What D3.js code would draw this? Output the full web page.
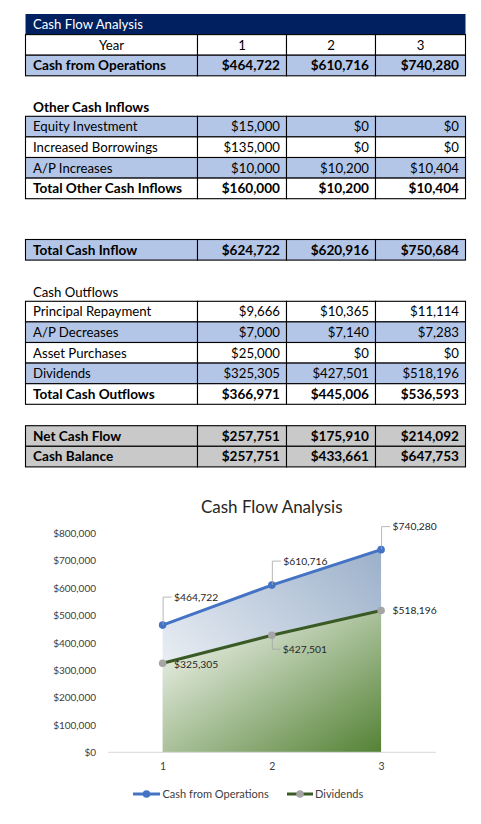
<!DOCTYPE html>
<html>
<head>
<meta charset="utf-8">
<script src="https://cdn.jsdelivr.net/npm/d3@7"></script>
<style>
  html, body { margin: 0; padding: 0; background: #fff; }
  svg { display: block; }
  text { font-family: Lato, "Open Sans", sans-serif; }
</style>
</head>
<body>
<svg id="root" width="481" height="824"></svg>
<script>
// ---------- DATA ----------
const years = [1, 2, 3];
const cashFromOperations = [464722, 610716, 740280];
const equityInvestment = [15000, 0, 0];
const increasedBorrowings = [135000, 0, 0];
const apIncreases = [10000, 10200, 10404];
const totalOtherCashInflows = [160000, 10200, 10404];
const totalCashInflow = [624722, 620916, 750684];
const principalRepayment = [9666, 10365, 11114];
const apDecreases = [7000, 7140, 7283];
const assetPurchases = [25000, 0, 0];
const dividends = [325305, 427501, 518196];
const totalCashOutflows = [366971, 445006, 536593];
const netCashFlow = [257751, 175910, 214092];
const cashBalance = [257751, 433661, 647753];
const yTicks = [0, 100000, 200000, 300000, 400000, 500000, 600000, 700000, 800000];
const seriesNames = ["Cash from Operations", "Dividends"];
const tableTitle = "Cash Flow Analysis";
const chartTitle = "Cash Flow Analysis";

// ---------- SETUP ----------
const svg = d3.select("#root");
const fmt = d3.format("$,.0f");
const BLUE = "#b4c6e7", GRAY = "#c9c9c9", WHITE = "#ffffff", NAVY = "#002060";

// Table geometry
const colEdges = [25.5, 197.5, 286.5, 375.5, 465.5];
const rowH = 20.6;
const fs = 13.2, fsBold = 13.6;

const table = svg.append("g").attr("class", "table");

function drawRows(top, rows) {
  rows.forEach((r, i) => {
    const y = top + i * rowH;
    const g = table.append("g");
    for (let c = 0; c < 4; c++) {
      g.append("rect")
        .attr("x", colEdges[c]).attr("y", y)
        .attr("width", colEdges[c + 1] - colEdges[c]).attr("height", rowH)
        .attr("fill", r.fill).attr("stroke", "#000").attr("stroke-width", 1.1);
    }
    const size = r.bold ? fsBold : fs;
    g.append("text")
      .attr("x", r.center ? (colEdges[0] + colEdges[1]) / 2 : colEdges[0] + 7.5)
      .attr("y", y + rowH / 2).attr("dy", "0.36em")
      .attr("text-anchor", r.center ? "middle" : "start")
      .attr("font-size", size).attr("font-weight", r.bold ? 700 : 400)
      .attr("fill", "#000").text(r.label);
    r.values.forEach((v, c) => {
      g.append("text")
        .attr("x", r.center ? (colEdges[c + 1] + colEdges[c + 2]) / 2 : colEdges[c + 2] - 6.5)
        .attr("y", y + rowH / 2).attr("dy", "0.36em")
        .attr("text-anchor", r.center ? "middle" : "end")
        .attr("font-size", size).attr("font-weight", r.bold ? 700 : 400)
        .attr("fill", "#000").text(r.center ? v : fmt(v));
    });
  });
}

// Title bar
table.append("rect").attr("x", colEdges[0]).attr("y", 14)
  .attr("width", colEdges[4] - colEdges[0]).attr("height", rowH).attr("fill", NAVY);
table.append("text").attr("x", colEdges[0] + 7.5).attr("y", 14 + rowH / 2).attr("dy", "0.36em")
  .attr("font-size", fs).attr("fill", "#fff").text(tableTitle);

drawRows(34.6, [
  { label: "Year", values: years, fill: WHITE, center: true },
  { label: "Cash from Operations", values: cashFromOperations, fill: BLUE, bold: true }
]);

table.append("text").attr("x", colEdges[0] + 7.5).attr("y", 107.3).attr("dy", "0.36em")
  .attr("font-size", fsBold).attr("font-weight", 700).text("Other Cash Inflows");

drawRows(116.3, [
  { label: "Equity Investment", values: equityInvestment, fill: BLUE },
  { label: "Increased Borrowings", values: increasedBorrowings, fill: WHITE },
  { label: "A/P Increases", values: apIncreases, fill: BLUE },
  { label: "Total Other Cash Inflows", values: totalOtherCashInflows, fill: WHITE, bold: true }
]);

drawRows(239.5, [
  { label: "Total Cash Inflow", values: totalCashInflow, fill: BLUE, bold: true }
]);

table.append("text").attr("x", colEdges[0] + 7.5).attr("y", 292.6).attr("dy", "0.36em")
  .attr("font-size", fs).text("Cash Outflows");

drawRows(301.3, [
  { label: "Principal Repayment", values: principalRepayment, fill: WHITE },
  { label: "A/P Decreases", values: apDecreases, fill: BLUE },
  { label: "Asset Purchases", values: assetPurchases, fill: WHITE },
  { label: "Dividends", values: dividends, fill: BLUE },
  { label: "Total Cash Outflows", values: totalCashOutflows, fill: WHITE, bold: true }
]);

drawRows(425.7, [
  { label: "Net Cash Flow", values: netCashFlow, fill: GRAY, bold: true },
  { label: "Cash Balance", values: cashBalance, fill: GRAY, bold: true }
]);

// ---------- CHART ----------
const chart = svg.append("g").attr("class", "chart");
const x = d3.scalePoint().domain(years).range([108, 435.7]).padding(0.5);
const y = d3.scaleLinear().domain([0, 800000]).range([752.3, 533.3]);

const defs = svg.append("defs");
const gBlue = defs.append("linearGradient").attr("id", "gBlue")
  .attr("x1", 0).attr("y1", 1).attr("x2", 1).attr("y2", 0);
gBlue.append("stop").attr("offset", "0%").attr("stop-color", "#ffffff");
gBlue.append("stop").attr("offset", "100%").attr("stop-color", "#9bb0ca");
const gGreen = defs.append("linearGradient").attr("id", "gGreen")
  .attr("x1", 0).attr("y1", 0).attr("x2", 1).attr("y2", 1);
gGreen.append("stop").attr("offset", "0%").attr("stop-color", "#ffffff");
gGreen.append("stop").attr("offset", "100%").attr("stop-color", "#548235");

const cfoData = years.map((yr, i) => ({ yr, v: cashFromOperations[i] }));
const divData = years.map((yr, i) => ({ yr, v: dividends[i] }));

const area = d3.area().x(d => x(d.yr)).y0(y(0)).y1(d => y(d.v));
const line = d3.line().x(d => x(d.yr)).y(d => y(d.v));

chart.append("path").datum(cfoData).attr("d", area).attr("fill", "url(#gBlue)");
chart.append("path").datum(divData).attr("d", area).attr("fill", "url(#gGreen)");

// Axis baseline
chart.append("line").attr("x1", 108).attr("x2", 435.7).attr("y1", y(0)).attr("y2", y(0))
  .attr("stroke", "#d9d9d9").attr("stroke-width", 1);

// Y axis labels
const yAxis = d3.axisLeft(y).tickValues(yTicks).tickFormat(fmt).tickSize(0).tickPadding(0);
chart.append("g").attr("transform", "translate(96,0)").call(yAxis)
  .call(g => g.select(".domain").remove())
  .call(g => g.selectAll("text").attr("font-family", "Lato, 'Open Sans', sans-serif")
    .attr("font-size", 10).attr("fill", "#404040"));

// X axis labels
const xAxis = d3.axisBottom(x).tickSize(0).tickPadding(0);
chart.append("g").attr("transform", "translate(0,763)").call(xAxis)
  .call(g => g.select(".domain").remove())
  .call(g => g.selectAll("text").attr("font-family", "Lato, 'Open Sans', sans-serif")
    .attr("font-size", 10.5).attr("fill", "#404040"));

// Lines
chart.append("path").datum(divData).attr("d", line).attr("fill", "none")
  .attr("stroke", "#3a5a25").attr("stroke-width", 3);
chart.append("path").datum(cfoData).attr("d", line).attr("fill", "none")
  .attr("stroke", "#4472c4").attr("stroke-width", 3);

// Markers
chart.selectAll(".mdiv").data(divData).join("circle").attr("class", "mdiv")
  .attr("cx", d => x(d.yr)).attr("cy", d => y(d.v)).attr("r", 3.8).attr("fill", "#a5a5a5");
chart.selectAll(".mcfo").data(cfoData).join("circle").attr("class", "mcfo")
  .attr("cx", d => x(d.yr)).attr("cy", d => y(d.v)).attr("r", 3.8).attr("fill", "#4472c4");

// Data labels (offsets are layout, per point)
const cfoLabelOffsets = [[11.5, -28], [11.5, -24], [11.5, -23]];
const divLabelOffsets = [[11.5, 0.8], [11, 14], [11.5, 0.3]];
const leaderCfo = [true, true, true];
const leaderDiv = [false, true, false];

function labels(data, offsets, leaders) {
  data.forEach((d, i) => {
    const px = x(d.yr), py = y(d.v);
    const lx = px + offsets[i][0], ly = py + offsets[i][1];
    if (leaders[i]) {
      chart.append("path")
        .attr("d", `M${px + 0.5},${py}V${ly}H${lx - 2.5}`)
        .attr("fill", "none").attr("stroke", "#a6a6a6").attr("stroke-width", 0.8);
    }
    chart.append("text").attr("x", lx).attr("y", ly).attr("dy", "0.36em")
      .attr("font-size", 10.3).attr("fill", "#262626").text(fmt(d.v));
  });
}
labels(cfoData, cfoLabelOffsets, leaderCfo);
labels(divData, divLabelOffsets, leaderDiv);

// Title
chart.append("text").attr("x", 271.7).attr("y", 506.5).attr("dy", "0.36em")
  .attr("text-anchor", "middle").attr("font-size", 17).attr("fill", "#262626").text(chartTitle);

// Legend
const legend = chart.append("g").attr("transform", "translate(0,794)");
const legendItems = [
  { name: seriesNames[0], x1: 133, x2: 160, stroke: "#4472c4", marker: "#4472c4", tx: 162.5 },
  { name: seriesNames[1], x1: 287, x2: 313, stroke: "#3a5a25", marker: "#a5a5a5", tx: 315 }
];
legendItems.forEach(it => {
  legend.append("line").attr("x1", it.x1).attr("x2", it.x2).attr("y1", 0).attr("y2", 0)
    .attr("stroke", it.stroke).attr("stroke-width", 3);
  legend.append("circle").attr("cx", (it.x1 + it.x2) / 2).attr("cy", 0).attr("r", 3.8).attr("fill", it.marker);
  legend.append("text").attr("x", it.tx).attr("y", 0).attr("dy", "0.36em")
    .attr("font-size", 11).attr("fill", "#404040").text(it.name);
});
</script>
</body>
</html>
